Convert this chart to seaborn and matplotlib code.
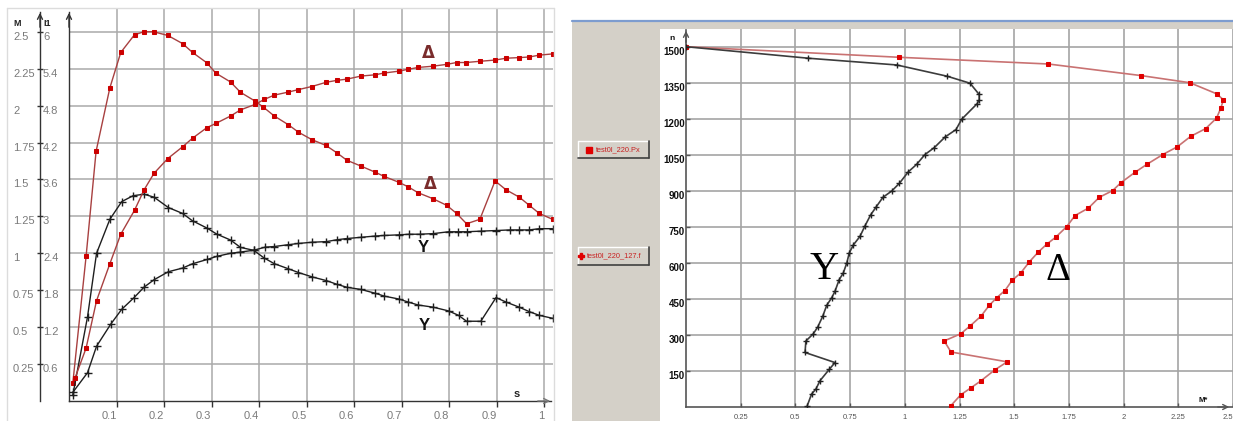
import matplotlib
matplotlib.use("Agg")
import matplotlib.pyplot as plt
import seaborn as sns
from matplotlib.patches import Rectangle
from matplotlib.lines import Line2D
from matplotlib.ticker import FixedLocator, FixedFormatter

# ---------------- left panel: torque M and current I1 versus slip s ----------------
slip_ticks = [0.1, 0.2, 0.3, 0.4, 0.5, 0.6, 0.7, 0.8, 0.9, 1.0]
slip_labels = ["0.1", "0.2", "0.3", "0.4", "0.5", "0.6", "0.7", "0.8", "0.9", "1"]
m_ticks = [0.25, 0.5, 0.75, 1.0, 1.25, 1.5, 1.75, 2.0, 2.25, 2.5]
m_labels = ["0.25", "0.5", "0.75", "1", "1.25", "1.5", "1.75", "2", "2.25", "2.5"]
i1_ticks = [0.6, 1.2, 1.8, 2.4, 3.0, 3.6, 4.2, 4.8, 5.4, 6.0]
i1_labels = ["0.6", "1.2", "1.8", "2.4", "3", "3.6", "4.2", "4.8", "5.4", "6"]

# torque, delta connection
torque_delta_s = [0.008, 0.036, 0.057, 0.086, 0.109, 0.138, 0.158, 0.178, 0.208, 0.239,
                  0.26, 0.29, 0.309, 0.34, 0.361, 0.392, 0.409, 0.432, 0.462, 0.483,
                  0.511, 0.541, 0.564, 0.585, 0.615, 0.644, 0.664, 0.695, 0.714, 0.735,
                  0.766, 0.795, 0.816, 0.837, 0.865, 0.897, 0.92, 0.948, 0.969, 0.99, 1.018]
torque_delta_m = [0.12, 0.98, 1.69, 2.12, 2.36, 2.48, 2.50, 2.50, 2.475, 2.42,
                  2.36, 2.29, 2.22, 2.16, 2.09, 2.03, 1.99, 1.93, 1.87, 1.82,
                  1.77, 1.73, 1.68, 1.63, 1.59, 1.55, 1.52, 1.48, 1.45, 1.41,
                  1.37, 1.325, 1.27, 1.20, 1.23, 1.49, 1.43, 1.38, 1.325, 1.27, 1.23]

# current, delta connection
current_delta_s = [0.013, 0.036, 0.058, 0.086, 0.109, 0.138, 0.158, 0.179, 0.208, 0.239,
                   0.26, 0.29, 0.309, 0.34, 0.361, 0.392, 0.411, 0.432, 0.462, 0.483,
                   0.511, 0.542, 0.564, 0.585, 0.615, 0.644, 0.664, 0.695, 0.714, 0.735,
                   0.766, 0.795, 0.816, 0.836, 0.865, 0.897, 0.92, 0.948, 0.969, 0.99, 1.018]
current_delta_i = [0.38, 0.86, 1.63, 2.23, 2.71, 3.10, 3.43, 3.70, 3.94, 4.13,
                   4.27, 4.44, 4.51, 4.63, 4.73, 4.82, 4.90, 4.97, 5.02, 5.06,
                   5.11, 5.18, 5.21, 5.23, 5.28, 5.30, 5.33, 5.36, 5.39, 5.42,
                   5.44, 5.47, 5.50, 5.50, 5.52, 5.54, 5.57, 5.58, 5.59, 5.62, 5.64]

# torque, star connection
torque_star_s = [0.008, 0.039, 0.058, 0.086, 0.111, 0.135, 0.158, 0.179, 0.209, 0.239,
                 0.26, 0.291, 0.311, 0.34, 0.361, 0.389, 0.41, 0.432, 0.462, 0.483,
                 0.512, 0.542, 0.564, 0.585, 0.615, 0.644, 0.664, 0.695, 0.714, 0.735,
                 0.767, 0.799, 0.82, 0.837, 0.867, 0.899, 0.92, 0.948, 0.969, 0.99, 1.018]
torque_star_m = [0.04, 0.57, 1.00, 1.23, 1.35, 1.39, 1.40, 1.38, 1.31, 1.27,
                 1.22, 1.17, 1.13, 1.09, 1.04, 1.02, 0.97, 0.93, 0.895, 0.87,
                 0.84, 0.815, 0.79, 0.77, 0.755, 0.73, 0.71, 0.69, 0.67, 0.65,
                 0.635, 0.61, 0.58, 0.54, 0.54, 0.70, 0.67, 0.635, 0.605, 0.58, 0.56]

# current, star connection
current_star_s = [0.008, 0.039, 0.058, 0.088, 0.111, 0.137, 0.158, 0.179, 0.209, 0.239,
                  0.26, 0.291, 0.311, 0.34, 0.361, 0.389, 0.413, 0.432, 0.462, 0.483,
                  0.512, 0.542, 0.564, 0.585, 0.615, 0.644, 0.664, 0.695, 0.716, 0.738,
                  0.767, 0.799, 0.818, 0.837, 0.867, 0.899, 0.928, 0.948, 0.969, 0.99, 1.018]
current_star_i = [0.14, 0.46, 0.89, 1.25, 1.49, 1.68, 1.85, 1.97, 2.10, 2.16,
                  2.23, 2.30, 2.35, 2.40, 2.42, 2.45, 2.50, 2.51, 2.54, 2.56,
                  2.58, 2.59, 2.62, 2.64, 2.66, 2.68, 2.69, 2.70, 2.71, 2.71,
                  2.72, 2.75, 2.75, 2.75, 2.76, 2.77, 2.78, 2.78, 2.78, 2.80, 2.80]

# ---------------- right panel: speed n versus torque M* ----------------
speed_ticks = [150, 300, 450, 600, 750, 900, 1050, 1200, 1350, 1500]
speed_labels = ["150", "300", "450", "600", "750", "900", "1050", "1200", "1350", "1500"]
torque_ticks = [0.25, 0.5, 0.75, 1.0, 1.25, 1.5, 1.75, 2.0, 2.25, 2.5]
torque_labels = ["0.25", "0.5", "0.75", "1", "1.25", "1.5", "1.75", "2", "2.25", "2.5"]

star_m = [0.0, 0.559, 0.963, 1.194, 1.298, 1.34, 1.34, 1.331, 1.26, 1.234,
          1.184, 1.135, 1.092, 1.054, 1.016, 0.975, 0.94, 0.90, 0.87, 0.844,
          0.818, 0.795, 0.765, 0.746, 0.735, 0.719, 0.70, 0.681, 0.666, 0.643,
          0.625, 0.602, 0.582, 0.548, 0.544, 0.681, 0.655, 0.612, 0.594, 0.574, 0.554]
star_n = [1500, 1452, 1424, 1377, 1348, 1301, 1279, 1263, 1198, 1155,
          1124, 1080, 1051, 1010, 979, 931, 899, 873, 834, 800,
          754, 710, 675, 641, 600, 558, 530, 482, 455, 423,
          378, 333, 305, 275, 227, 185, 157, 109, 75, 54, 5]

delta_m = [0.0, 0.973, 1.656, 2.078, 2.303, 2.425, 2.456, 2.445, 2.425, 2.375,
           2.307, 2.245, 2.179, 2.106, 2.052, 1.988, 1.95, 1.889, 1.839, 1.778,
           1.74, 1.69, 1.649, 1.61, 1.569, 1.53, 1.491, 1.458, 1.42, 1.386,
           1.348, 1.298, 1.256, 1.18, 1.211, 1.468, 1.412, 1.348, 1.301, 1.256, 1.21]
delta_n = [1500, 1456, 1428, 1380, 1350, 1304, 1279, 1246, 1203, 1159,
           1127, 1083, 1051, 1010, 977, 934, 901, 873, 828, 797,
           751, 707, 678, 645, 604, 558, 528, 485, 455, 423,
           378, 337, 305, 275, 229, 188, 155, 109, 79, 51, 5]

legend_names = ["test0l_220.Px", "test0l_220_127.f"]

# ------------------------------------------------------------------------
sns.set_style("white")
plt.rcParams["font.family"] = ["Liberation Sans", "DejaVu Sans"]

W, H = 1233, 421
fig = plt.figure(figsize=(W / 100, H / 100), dpi=100)
fig.patch.set_facecolor("white")


def fbox(x0, y0, x1, y1):
    """Pixel box measured from the top-left corner -> figure fraction rect."""
    return [x0 / W, 1 - y1 / H, (x1 - x0) / W, (y1 - y0) / H]


def fline(xs, ys, **kw):
    fig.add_artist(Line2D([x / W for x in xs], [1 - y / H for y in ys],
                          transform=fig.transFigure, **kw))


def frect(x0, y0, x1, y1, **kw):
    r = fbox(x0, y0, x1, y1)
    fig.add_artist(Rectangle((r[0], r[1]), r[2], r[3], transform=fig.transFigure, **kw))


def arrow(x_tip, y_tip, x_from, y_from, color):
    fig.add_artist(matplotlib.patches.FancyArrowPatch(
        (x_from / W, 1 - y_from / H), (x_tip / W, 1 - y_tip / H),
        transform=fig.transFigure, arrowstyle="->", mutation_scale=9,
        lw=1.0, color=color))


# window chrome of the right-hand application
frect(572, 21, W, H, fc="#d4d0c8", ec="none", zorder=0)
frect(660, 29, W, H, fc="white", ec="none", zorder=0)
fline([572, W], [20.5, 20.5], color="#7d9ccf", lw=1.6, zorder=1)

# frame of the left panel
fline([7, 553.5], [8, 8], color="#dcdcdc", lw=1, zorder=1)
fline([7, 7], [8, H], color="#dcdcdc", lw=1, zorder=1)
fline([553.5, 553.5], [8, H], color="#dcdcdc", lw=1, zorder=1)

# ======================= left panel =======================
PX_S = 475.0      # pixels per unit slip
PX_M = 147.7      # pixels per unit torque
axM = fig.add_axes(fbox(69, 8, 553, 401))
axM.patch.set_alpha(0)
axM.set_xlim(0, 484 / PX_S)
axM.set_ylim(0, 393 / PX_M)
axI = axM.twinx()
axI.set_ylim(0, 393 / PX_M * 2.4)

axis_col = "#333333"
grid_col = "#aaaaaa"
tick_col = "#7a7a7a"

axM.grid(True, color=grid_col, lw=1.1)
axM.set_axisbelow(True)
axM.xaxis.set_major_locator(FixedLocator(slip_ticks))
axM.xaxis.set_major_formatter(FixedFormatter(slip_labels))
axM.yaxis.set_major_locator(FixedLocator(m_ticks))
axM.yaxis.set_major_formatter(FixedFormatter(m_labels))
axI.yaxis.set_major_locator(FixedLocator(i1_ticks))
axI.yaxis.set_major_formatter(FixedFormatter(i1_labels))

for sp in ["top", "right"]:
    axM.spines[sp].set_visible(False)
axM.spines["left"].set_position(("outward", 29 * 0.72))
axM.spines["left"].set_bounds(0, (401 - 12) / PX_M)
axM.spines["bottom"].set_bounds(0, (551 - 69) / PX_S)
for sp in ["left", "bottom"]:
    axM.spines[sp].set_color(axis_col)
    axM.spines[sp].set_linewidth(1.0)

for sp in ["top", "right", "bottom"]:
    axI.spines[sp].set_visible(False)
axI.spines["left"].set_visible(True)
axI.spines["left"].set_position(("outward", 0))
axI.spines["left"].set_bounds(0, (401 - 12) / PX_M * 2.4)
axI.spines["left"].set_color(axis_col)
axI.spines["left"].set_linewidth(1.0)
axI.yaxis.tick_left()
axI.yaxis.set_label_position("left")

axM.tick_params(axis="y", direction="inout", length=4.3, width=1, color=axis_col,
                labelcolor=tick_col, labelsize=8, pad=17.3, left=True)
axI.tick_params(axis="y", direction="in", length=0, labelcolor=tick_col,
                labelsize=8, pad=18.7, left=True, right=False,
                labelleft=True, labelright=False)
axM.tick_params(axis="x", direction="out", length=4.3, width=1, color=axis_col,
                labelcolor=tick_col, labelsize=8, pad=2.6, bottom=True)
plt.setp(axM.get_yticklabels(), ha="left", va="top")
plt.setp(axI.get_yticklabels(), ha="left", va="top")
plt.setp(axM.get_xticklabels(), ha="right")

red_line = "#a84040"
red_mark = "#cc0000"
blk_line = "#1e1e1e"

sns.lineplot(x=torque_delta_s, y=torque_delta_m, ax=axM, sort=False, estimator=None,
             color=red_line, lw=1.0, marker="s", markersize=2.2,
             markerfacecolor=red_mark, markeredgecolor=red_mark, zorder=3)
sns.lineplot(x=current_delta_s, y=current_delta_i, ax=axI, sort=False, estimator=None,
             color=red_line, lw=1.0, marker="s", markersize=2.2,
             markerfacecolor=red_mark, markeredgecolor=red_mark, zorder=3)
sns.lineplot(x=torque_star_s, y=torque_star_m, ax=axM, sort=False, estimator=None,
             color=blk_line, lw=1.0, marker="+", markersize=6,
             markeredgecolor=blk_line, markeredgewidth=1.0, zorder=3)
sns.lineplot(x=current_star_s, y=current_star_i, ax=axI, sort=False, estimator=None,
             color=blk_line, lw=1.0, marker="+", markersize=6,
             markeredgecolor=blk_line, markeredgewidth=1.0, zorder=3)
axM.set_xlabel("")
axM.set_ylabel("")
axI.set_ylabel("")

lbl_red = "#7a2c2c"
axM.text(0.756, 2.355, "Δ", color=lbl_red, fontsize=12, ha="center", va="center",
         fontweight="bold", family=["DejaVu Sans"])
axM.text(0.760, 1.47, "Δ", color=lbl_red, fontsize=12, ha="center", va="center",
         fontweight="bold", family=["DejaVu Sans"])
axM.text(0.745, 1.04, "Y", color="#111111", fontsize=12, ha="center", va="center",
         fontweight="bold")
axM.text(0.747, 0.514, "Y", color="#111111", fontsize=12, ha="center", va="center",
         fontweight="bold")

fig.text(13 / W, 1 - 24 / H, "M", fontsize=6.5, fontweight="bold", color="#222222",
         ha="left", va="center")
fig.text(43 / W, 1 - 24 / H, "I1", fontsize=6.5, fontweight="bold", color="#222222",
         ha="left", va="center")
fig.text(517 / W, 1 - 394 / H, "s", fontsize=8, fontweight="bold", color="#222222",
         ha="center", va="center")

arrow(40, 10, 40, 30, axis_col)
arrow(69, 10, 69, 30, axis_col)
arrow(553, 401, 535, 401, "#777777")

# ======================= right panel =======================
PX_TQ = 218.8     # pixels per unit torque
PX_N = 0.2402     # pixels per rpm
axR = fig.add_axes(fbox(686, 29, W, 407))
axR.patch.set_alpha(0)
axR.set_xlim(0, (W - 686) / PX_TQ)
axR.set_ylim(0, 378 / PX_N)
axR.grid(True, color="#a4a4a4", lw=1.2)
axR.set_axisbelow(True)
axR.xaxis.set_major_locator(FixedLocator(torque_ticks))
axR.xaxis.set_major_formatter(FixedFormatter(torque_labels))
axR.yaxis.set_major_locator(FixedLocator(speed_ticks))
axR.yaxis.set_major_formatter(FixedFormatter(speed_labels))
for sp in ["top", "right"]:
    axR.spines[sp].set_visible(False)
for sp in ["left", "bottom"]:
    axR.spines[sp].set_color("#555555")
    axR.spines[sp].set_linewidth(1.2)
axR.spines["left"].set_bounds(0, (407 - 30) / PX_N)
axR.tick_params(axis="y", direction="in", length=3, width=1, color="#555555",
                labelsize=7, labelcolor="#111111", pad=0.8, left=True)
axR.tick_params(axis="x", direction="in", length=3, width=1, color="#555555",
                labelsize=5.5, labelcolor="#555555", pad=5.0, bottom=True)
plt.setp(axR.get_yticklabels(), fontweight="bold", va="top")
axR.get_xticklabels()[-1].set_ha("right")

sns.lineplot(x=delta_m, y=delta_n, ax=axR, sort=False, estimator=None,
             color="#c97272", lw=1.2, marker="s", markersize=2.2,
             markerfacecolor="#e00000", markeredgecolor="#e00000", zorder=3)
sns.lineplot(x=star_m, y=star_n, ax=axR, sort=False, estimator=None,
             color="#3c3c3c", lw=1.2, marker="+", markersize=5,
             markeredgecolor="#222222", markeredgewidth=1.0, zorder=3)
axR.set_xlabel("")
axR.set_ylabel("")

axR.text(0.63, 573, "Y", fontsize=29, family=["Liberation Serif"], color="black",
         ha="center", va="center")
axR.text(1.70, 569, "Δ", fontsize=28, family=["Liberation Serif"], color="black",
         ha="center", va="center")
fig.text(672 / W, 1 - 38 / H, "n", fontsize=6, fontweight="bold", color="#111111",
         ha="center", va="center")
fig.text(1203 / W, 1 - 400 / H, "M*", fontsize=5.5, fontweight="bold", color="#111111",
         ha="center", va="center")

arrow(686, 28, 686, 45, "#555555")
arrow(1232, 407, 1215, 407, "#555555")

# legend buttons
for (y0, y1), name, mk in zip([(141, 158), (247, 265)], legend_names, ["s", "P"]):
    frect(578, y0, 648, y1, fc="#d4d0c8", ec="none", zorder=2)
    fline([578, 648], [y0, y0], color="white", lw=1, zorder=3)
    fline([578, 578], [y0, y1], color="white", lw=1, zorder=3)
    fline([578, 648.5], [y1, y1], color="#404040", lw=1.2, zorder=3)
    fline([648.5, 648.5], [y0, y1], color="#404040", lw=1.2, zorder=3)
    yc = (y0 + y1) / 2
    mx = 589 if mk == "s" else 581
    fig.add_artist(Line2D([mx / W], [1 - yc / H], marker=mk, markersize=4,
                          color="#e00000", transform=fig.transFigure, zorder=4))
    tx = 596 if mk == "s" else 587
    fig.text(tx / W, 1 - yc / H, name, fontsize=5.3, color="#c82020",
             ha="left", va="center", zorder=4)

fig.savefig("out.png", dpi=100, facecolor="white")
